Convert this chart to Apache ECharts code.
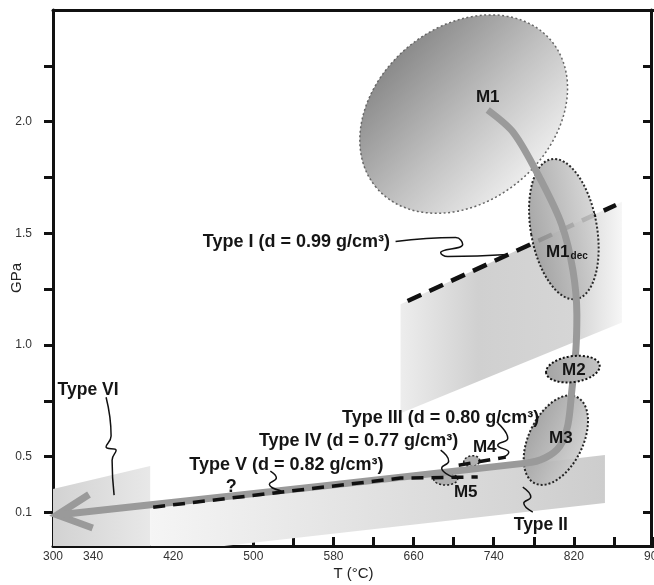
<!DOCTYPE html>
<html>
<head>
<meta charset="utf-8">
<title>P-T path</title>
<script src="https://cdn.jsdelivr.net/npm/echarts@6/dist/echarts.min.js"></script>
<style>
  html, body { margin: 0; padding: 0; background: #fff; }
  #main { width: 654px; height: 585px; }
</style>
</head>
<body>
<div id="main"></div>
<script>
// axis ticks and labels
var xTickValues = [340, 380, 420, 460, 500, 540, 580, 620, 660, 700, 740, 780, 820, 860, 900];
var xLabelValues = [300, 340, 420, 500, 580, 660, 740, 820, 900];
var yTickValues = [0.25, 0.5, 0.75, 1.0, 1.25, 1.5, 1.75, 2.0, 2.25];
var yLabelValues = [0.25, 0.5, 1.0, 1.5, 2.0];
var yLabelTexts = ['0.1', '0.5', '1.0', '1.5', '2.0'];

// P-T path (T in °C, P in GPa)
var pathT = [734, 760, 787, 808, 819, 823, 822, 818, 814, 806, 791, 772, 304];
var pathP = [2.052, 1.949, 1.739, 1.537, 1.336, 1.134, 0.977, 0.798, 0.642, 0.547, 0.494, 0.471, 0.239];

// metamorphic stages: centre, half ranges, tilt of the ellipse (deg)
var stageNames = ['M1', 'M1dec', 'M3', 'M4', 'M5', 'M2'];
var stageT = [710, 810, 802, 718, 692, 819];
var stageP = [2.034, 1.519, 0.574, 0.480, 0.400, 0.892];
var stageRangeT = [114, 33, 27, 8, 12, 27];
var stageRangeP = [0.390, 0.318, 0.215, 0.024, 0.027, 0.058];
var stageTilt = [40, 10, -26, 10, 0, 8];

// shaded fields
var fieldTypeVI = [[300, 0.355], [397, 0.458], [397, 0.1], [300, 0.1]];
var fieldTypeII = [[397, 0.270], [851, 0.507], [851, 0.292], [471, 0.1], [397, 0.1]];
var fieldTypeI = [[647, 1.182], [868, 1.641], [868, 1.101], [647, 0.694]];

// dashed density lines
var dashTypeI = [[654, 1.197], [862, 1.627]];
var dashLower = [[400, 0.274], [647, 0.404], [724, 0.409]];
var dashUpper = [[705, 0.462], [752, 0.498]];

// leader squiggles
var leaders = [
  [[642, 1.463], [702, 1.481], [709, 1.450], [687, 1.414], [694, 1.396], [754, 1.405]],
  [[353, 0.766], [358, 0.592], [353, 0.543], [363, 0.529], [359, 0.484], [361, 0.328]],
  [[517, 0.435], [523, 0.404], [516, 0.377], [528, 0.346]],
  [[687, 0.529], [695, 0.480], [688, 0.449], [702, 0.404]],
  [[744, 0.650], [754, 0.583], [744, 0.551], [755, 0.520], [750, 0.498]],
  [[769, 0.364], [777, 0.319], [770, 0.292], [779, 0.252]]
];

// text labels
var labelTexts = ['M1', '{m|M1}{s|dec}', 'M2', 'M3', 'M4', 'M5',
  'Type I (d = 0.99 g/cm³)', 'Type II', 'Type III (d = 0.80 g/cm³)',
  'Type IV (d = 0.77 g/cm³)', 'Type V (d = 0.82 g/cm³)', 'Type VI', '?'];
var labelT = [734, 813, 820, 807, 731, 712, 543, 787, 687, 605, 533, 335, 478];
var labelP = [2.107, 1.414, 0.887, 0.583, 0.543, 0.341, 1.459, 0.194, 0.672, 0.569, 0.462, 0.797, 0.364];
var labelSizes = [17, 17, 17, 17, 17, 17, 18, 17.5, 18, 18, 18, 17.5, 18];

var FONT = '"Liberation Sans", Arial, sans-serif';

function grad(x, y, x2, y2, stops) {
  return new echarts.graphic.LinearGradient(x, y, x2, y2, stops.map(function (s) {
    return { offset: s[0], color: s[1] };
  }));
}

// the last stage (M2) is drawn above the path
var stageStyles = [
  { fill: grad(0.45, 0, 0.55, 1, [[0, '#8a8a8a'], [0.55, '#c2c2c2'], [1, '#ececec']]), stroke: '#666', lineWidth: 1.5, lineDash: [2, 2.5], opacity: 1 },
  { fill: grad(0, 0, 1, 0, [[0, '#9c9c9c'], [1, '#d2d2d2']]), stroke: '#111', lineWidth: 2, lineDash: [2, 2], opacity: 0.88 },
  { fill: grad(0, 0, 1, 0, [[0, '#9c9c9c'], [1, '#cbcbcb']]), stroke: '#111', lineWidth: 2, lineDash: [2, 2], opacity: 0.9 },
  { fill: '#b0b0b0', stroke: '#222', lineWidth: 1.5, lineDash: [2, 2], opacity: 1 },
  { fill: '#b0b0b0', stroke: '#222', lineWidth: 1.5, lineDash: [2, 2], opacity: 1 },
  { fill: grad(0, 0, 1, 0, [[0, '#a4a4a4'], [1, '#c4c4c4']]), stroke: '#111', lineWidth: 2, lineDash: [2, 2], opacity: 1 }
];

var fields = [fieldTypeVI, fieldTypeII, fieldTypeI];
var fieldFills = [
  grad(0, 0, 1, 0, [[0, '#d2d2d2'], [1, '#e8e8e8']]),
  grad(0, 0, 1, 0, [[0, '#f5f5f5'], [1, '#cdcdcd']]),
  grad(0, 0, 1, 0, [[0, '#ededed'], [0.35, '#d0d0d0'], [0.8, '#d6d6d6'], [1, '#f6f6f6']])
];

var chart = echarts.init(document.getElementById('main'));

function renderField(params, api) {
  var pts = fields[params.dataIndex].map(function (v) { return api.coord(v); });
  return { type: 'polygon', shape: { points: pts }, style: { fill: fieldFills[params.dataIndex] } };
}

function renderStage(params, api) {
  var c = api.coord([api.value(0), api.value(1)]);
  var rx = api.size([api.value(2), 0])[0];
  var ry = api.size([0, api.value(3)])[1];
  var st = stageStyles[api.value(5)];
  return {
    type: 'ellipse',
    x: c[0], y: c[1],
    rotation: api.value(4) * Math.PI / 180,
    shape: { cx: 0, cy: 0, rx: rx, ry: ry },
    style: { fill: st.fill, stroke: st.stroke, lineWidth: st.lineWidth, lineDash: st.lineDash, opacity: st.opacity }
  };
}

function renderArrow(params, api) {
  var tip = api.coord([api.value(0), api.value(1)]);
  var from = api.coord([api.value(2), api.value(3)]);
  var ang = Math.atan2(from[1] - tip[1], from[0] - tip[0]);
  var len = 38, spread = 0.46;
  return {
    type: 'polyline',
    shape: { points: [
      [tip[0] + len * Math.cos(ang - spread), tip[1] + len * Math.sin(ang - spread)],
      tip,
      [tip[0] + len * Math.cos(ang + spread), tip[1] + len * Math.sin(ang + spread)]
    ] },
    style: { stroke: '#9a9a9a', lineWidth: 7, fill: null, lineJoin: 'miter' }
  };
}

function renderLabel(params, api) {
  var p = api.coord([api.value(0), api.value(1)]);
  var size = labelSizes[params.dataIndex];
  return {
    type: 'text', x: p[0], y: p[1],
    style: {
      text: labelTexts[params.dataIndex],
      align: 'center', verticalAlign: 'middle',
      fontFamily: FONT, fontWeight: 'bold', fontSize: size, fill: '#151515',
      rich: {
        m: { fontFamily: FONT, fontWeight: 'bold', fontSize: size, fill: '#151515', verticalAlign: 'bottom' },
        s: { fontFamily: FONT, fontWeight: 'bold', fontSize: 10, fill: '#151515', verticalAlign: 'bottom', padding: [0, 0, 0, 1] }
      }
    }
  };
}

function lineSeries(points, width, color, dash, smooth, z) {
  return {
    type: 'line', data: points, symbol: 'none', smooth: smooth, z: z,
    lineStyle: { color: color, width: width, type: dash || 'solid', cap: 'butt' },
    silent: true
  };
}

function stageData(from, to) {
  var out = [];
  for (var i = from; i < to; i++) {
    out.push([stageT[i], stageP[i], stageRangeT[i], stageRangeP[i], stageTilt[i], i]);
  }
  return out;
}

var series = [];
series.push({
  type: 'custom', coordinateSystem: 'cartesian2d', renderItem: renderField, z: 1,
  data: fields.map(function (f) { return f[0]; }), encode: { x: 0, y: 1 }, silent: true
});
series.push(lineSeries(dashTypeI, 4.5, '#111', [15, 9], false, 2));
series.push({
  type: 'custom', coordinateSystem: 'cartesian2d', renderItem: renderStage, z: 3,
  data: stageData(0, stageNames.length - 1), encode: { x: 0, y: 1 }, silent: true
});
series.push(lineSeries(pathT.map(function (t, i) { return [t, pathP[i]]; }), 7, '#9a9a9a', null, 0.3, 4));
var n = pathT.length;
series.push({
  type: 'custom', coordinateSystem: 'cartesian2d', renderItem: renderArrow, z: 4,
  data: [[pathT[n - 1], pathP[n - 1], pathT[n - 2], pathP[n - 2]]],
  encode: { x: 0, y: 1 }, silent: true
});
series.push({
  type: 'custom', coordinateSystem: 'cartesian2d', renderItem: renderStage, z: 5,
  data: stageData(stageNames.length - 1, stageNames.length), encode: { x: 0, y: 1 }, silent: true
});
series.push(lineSeries(dashLower, 3.5, '#111', [12, 8], false, 6));
series.push(lineSeries(dashUpper, 3.5, '#111', [12, 8], false, 6));
leaders.forEach(function (l) { series.push(lineSeries(l, 1.5, '#111', null, 0.5, 6)); });
series.push({
  type: 'custom', coordinateSystem: 'cartesian2d', renderItem: renderLabel, z: 7,
  data: labelTexts.map(function (t, i) { return [labelT[i], labelP[i]]; }),
  encode: { x: 0, y: 1 }, silent: true
});

var axisLine = { show: true, onZero: false, lineStyle: { color: '#111', width: 3 } };
var tickStyle = { color: '#111', width: 3 };

chart.setOption({
  animation: false,
  backgroundColor: '#fff',
  grid: { left: 53, right: 0, top: 10, bottom: 39, containLabel: false, outerBoundsMode: 'none' },
  xAxis: [{
    type: 'value', position: 'bottom', min: 300, max: 900,
    name: 'T (°C)', nameLocation: 'middle', nameGap: 20, nameMoveOverlap: false,
    nameTextStyle: { fontFamily: FONT, fontSize: 15, color: '#222' },
    axisLine: axisLine,
    axisTick: { show: true, inside: true, length: 9, lineStyle: tickStyle, customValues: xTickValues },
    axisLabel: { customValues: xLabelValues, fontFamily: FONT, fontSize: 12, color: '#333', margin: 5 },
    splitLine: { show: false }
  }, {
    type: 'value', position: 'top', min: 300, max: 900,
    axisLine: axisLine, axisTick: { show: false }, axisLabel: { show: false }, splitLine: { show: false }
  }],
  yAxis: [{
    type: 'value', position: 'left', min: 0.1, max: 2.5,
    name: 'GPa', nameLocation: 'middle', nameGap: 29, nameRotate: 90, nameMoveOverlap: false,
    nameTextStyle: { fontFamily: FONT, fontSize: 15, color: '#222' },
    axisLine: axisLine,
    axisTick: { show: true, inside: false, length: 9, lineStyle: tickStyle, customValues: yTickValues },
    axisLabel: {
      customValues: yLabelValues, fontFamily: FONT, fontSize: 12, color: '#333', margin: 21,
      formatter: function (v) {
        for (var i = 0; i < yLabelValues.length; i++) {
          if (Math.abs(v - yLabelValues[i]) < 1e-6) return yLabelTexts[i];
        }
        return '';
      }
    },
    splitLine: { show: false }
  }, {
    type: 'value', position: 'right', offset: -3, min: 0.1, max: 2.5,
    axisLine: axisLine,
    axisTick: { show: true, inside: true, length: 8, lineStyle: tickStyle, customValues: yTickValues },
    axisLabel: { show: false }, splitLine: { show: false }
  }],
  series: series
});
</script>
</body>
</html>
